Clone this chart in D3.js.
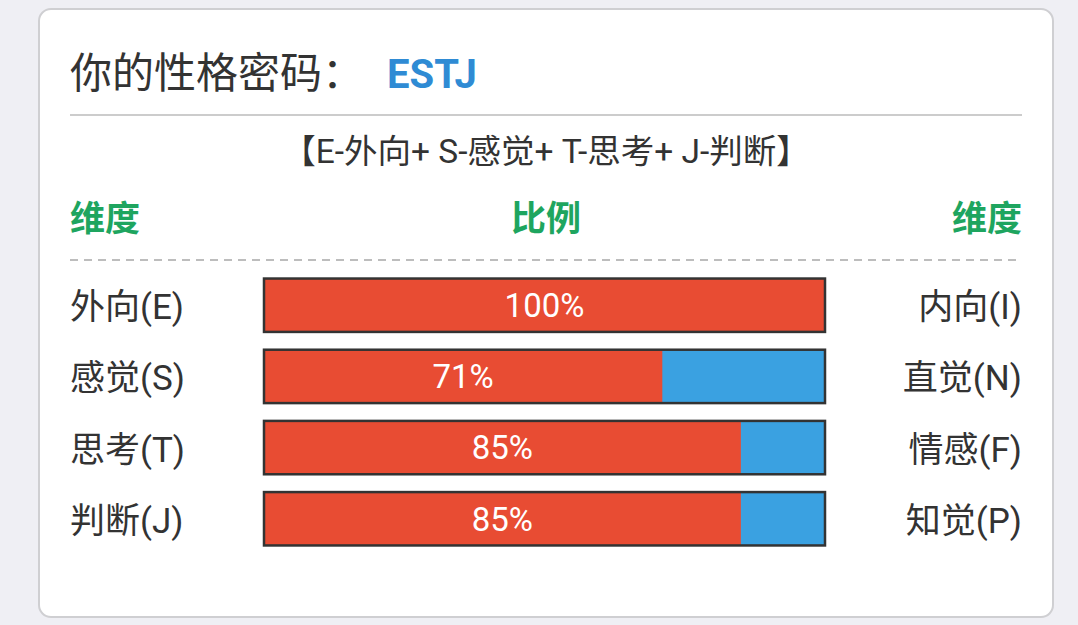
<!DOCTYPE html>
<html lang="zh">
<head>
    <meta charset="UTF-8">
    <title>性格密码</title>
    <style type="text/css">
        html, body { padding:0; margin:0; background:#efeff4; }
        svg { display:block; font-family:Roboto, "Noto Sans CJK SC", sans-serif; }
    </style>
</head>
<body>
<script src="https://d3js.org/d3.v7.min.js"></script>
<script>
    var code = 'ESTJ';
    var subtitle = '【E-外向+ S-感觉+ T-思考+ J-判断】';
    var leftLabels = ['外向(E)', '感觉(S)', '思考(T)', '判断(J)'];
    var rightLabels = ['内向(I)', '直觉(N)', '情感(F)', '知觉(P)'];
    var percents = [100, 71, 85, 85];

    var W = 1078, H = 625;
    var svg = d3.select('body').append('svg').attr('width', W).attr('height', H);

    // card
    svg.append('rect')
       .attr('x', 39).attr('y', 9).attr('width', 1014).attr('height', 608)
       .attr('rx', 12).attr('fill', '#fff')
       .attr('stroke', '#cfcfd2').attr('stroke-width', 2);

    svg.append('text').attr('x', 70).attr('y', 88)
       .attr('font-size', 42).attr('fill', '#333')
       .text('你的性格密码：');
    svg.append('text').attr('x', 387).attr('y', 88)
       .attr('font-size', 40).attr('font-weight', 'bold').attr('fill', '#2f8bd4')
       .text(code);

    svg.append('line').attr('x1', 70).attr('x2', 1022).attr('y1', 115).attr('y2', 115)
       .attr('stroke', '#cccccc').attr('stroke-width', 2);

    svg.append('text').attr('x', 546).attr('y', 163).attr('text-anchor', 'middle')
       .attr('font-size', 33.5).attr('fill', '#333').text(subtitle);

    var head = svg.append('g').attr('fill', '#1ea55f').attr('font-size', 35).attr('font-weight', 'bold');
    head.append('text').attr('x', 70).attr('y', 231).text('维度');
    head.append('text').attr('x', 546).attr('y', 231).attr('text-anchor', 'middle').text('比例');
    head.append('text').attr('x', 1022).attr('y', 231).attr('text-anchor', 'end').text('维度');

    svg.append('line').attr('x1', 70).attr('x2', 1022).attr('y1', 260).attr('y2', 260)
       .attr('stroke', '#bdbdbd').attr('stroke-width', 2).attr('stroke-dasharray', '8,6');

    var x = d3.scaleLinear().domain([0, 100]).range([264, 825]);
    var y = d3.scaleBand().domain(d3.range(percents.length)).range([270, 554]).paddingInner(0.25).paddingOuter(0.12);

    var rows = svg.selectAll('.row').data(percents).enter().append('g').attr('class', 'row')
                  .attr('transform', function(d, i) { return 'translate(0,' + y(i) + ')'; });

    rows.append('rect').attr('x', x(0)).attr('width', x(100) - x(0)).attr('height', y.bandwidth())
        .attr('fill', '#3aa1e1');
    rows.append('rect').attr('x', x(0)).attr('width', function(d) { return x(d) - x(0); })
        .attr('height', y.bandwidth()).attr('fill', '#e84c33');
    rows.append('rect').attr('x', x(0)).attr('width', x(100) - x(0)).attr('height', y.bandwidth())
        .attr('fill', 'none').attr('stroke', '#333').attr('stroke-width', 2.5);

    rows.append('text').attr('x', function(d) { return (x(0) + x(d)) / 2; })
        .attr('y', y.bandwidth() / 2).attr('dy', '0.36em').attr('text-anchor', 'middle')
        .attr('font-size', 33).attr('fill', '#fff')
        .text(function(d) { return d + '%'; });

    rows.append('text').attr('x', 70).attr('y', y.bandwidth() / 2).attr('dy', '0.4em')
        .attr('font-size', 35).attr('fill', '#333')
        .text(function(d, i) { return leftLabels[i]; });
    rows.append('text').attr('x', 1022).attr('y', y.bandwidth() / 2).attr('dy', '0.4em')
        .attr('text-anchor', 'end').attr('font-size', 35).attr('fill', '#333')
        .text(function(d, i) { return rightLabels[i]; });
</script>
</body>
</html>
